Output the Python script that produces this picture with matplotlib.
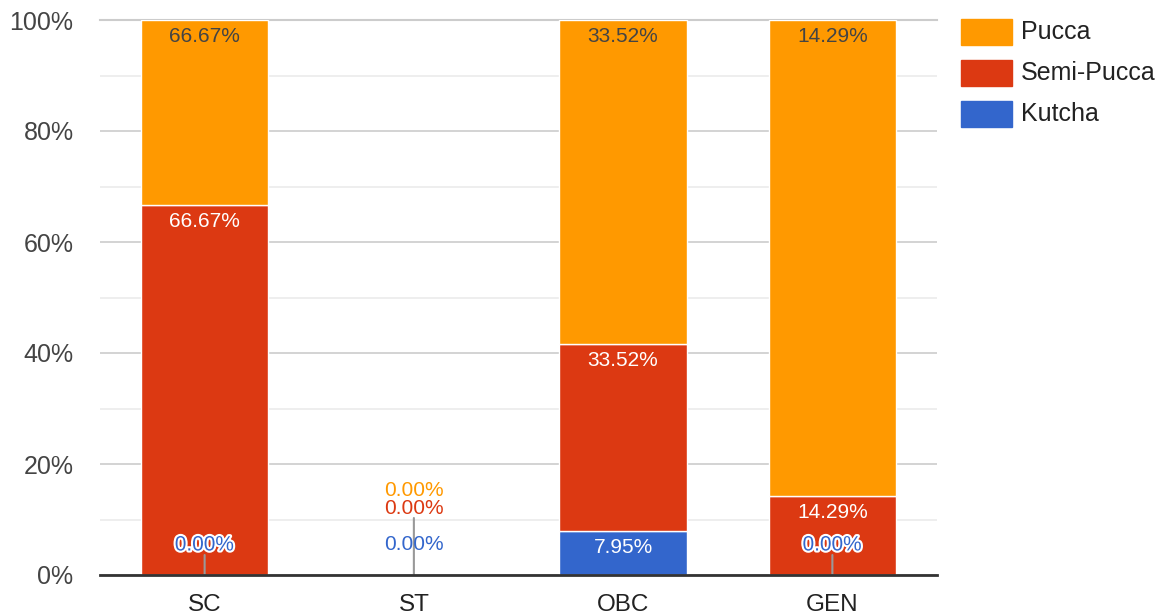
import matplotlib
matplotlib.use("Agg")
import matplotlib.pyplot as plt
import numpy as np
from matplotlib import patheffects as pe
from matplotlib.patches import Rectangle

# data
categories = ["SC", "ST", "OBC", "GEN"]
series = ["Kutcha", "Semi-Pucca", "Pucca"]          # stacking order, bottom first
kutcha = [0.0, 0.0, 7.95, 0.0]
semi_pucca = [66.67, 0.0, 33.60, 14.29]
pucca = [33.33, 0.0, 58.45, 85.71]
kutcha_labels = ["0.00%", "0.00%", "7.95%", "0.00%"]
semi_pucca_labels = ["66.67%", "0.00%", "33.52%", "14.29%"]
pucca_labels = ["66.67%", "0.00%", "33.52%", "14.29%"]
y_ticks = [0, 20, 40, 60, 80, 100]

colors = {"Kutcha": "#3366cc", "Semi-Pucca": "#dc3912", "Pucca": "#ff9900"}
label_colors = {"Kutcha": "white", "Semi-Pucca": "white", "Pucca": "#444444"}
values = {"Kutcha": kutcha, "Semi-Pucca": semi_pucca, "Pucca": pucca}
labels = {"Kutcha": kutcha_labels, "Semi-Pucca": semi_pucca_labels, "Pucca": pucca_labels}

plt.rcParams["font.family"] = ["Liberation Sans", "DejaVu Sans"]

W, H, DPI = 1160, 616, 100
fig = plt.figure(figsize=(W / DPI, H / DPI), dpi=DPI)
L, R, T, B = 100, 937, 20, 575
ax = fig.add_axes([L / W, 1 - B / H, (R - L) / W, (B - T) / H])

PX = 72 / DPI  # points per pixel
x = np.arange(len(categories))
bottom = np.zeros(len(categories))
zero_count = [0] * len(categories)
zero_offsets = [30, 66, 84]

for name in series:
    vals = np.array(values[name])
    ax.bar(x, vals, 0.61, bottom=bottom, color=colors[name],
           edgecolor="white", linewidth=1, zorder=2)
    for j, v in enumerate(vals):
        txt = labels[name][j]
        if v > 0:
            ax.annotate(txt, (x[j], bottom[j] + v), xytext=(0, -16.5 * PX),
                        textcoords="offset points", ha="center", va="center",
                        fontsize=15, color=label_colors[name], zorder=4)
        else:
            off = zero_offsets[zero_count[j]]
            zero_count[j] += 1
            on_bar = bottom[j] + sum(values[s][j] for s in series) > 0
            t = ax.annotate(txt, (x[j], bottom[j]), xytext=(0, off * PX),
                            textcoords="offset points", ha="center", va="center",
                            fontsize=15, color=colors[name], zorder=5)
            if on_bar:
                t.set_path_effects([pe.withStroke(linewidth=3, foreground="white")])
    bottom = bottom + vals

# leader stems for zero-height labels
for j, n in enumerate(zero_count):
    if n == 0:
        continue
    stem_px = 20 if n == 1 else zero_offsets[1] - 9
    ax.annotate("", (x[j], 0), xytext=(0, stem_px * PX), textcoords="offset points",
                arrowprops=dict(arrowstyle="-", color="#999999", lw=1.5,
                                shrinkA=0, shrinkB=0), zorder=3)

ax.set_xlim(-0.5, len(categories) - 0.5)
ax.set_ylim(0, 100)
ax.set_yticks(y_ticks)
ax.set_yticklabels([f"{t}%" for t in y_ticks])
ax.set_yticks(np.arange(10, 100, 20), minor=True)
ax.set_xticks(x)
ax.set_xticklabels(categories)
ax.tick_params(axis="both", which="both", length=0, labelsize=18, colors="#444444")
ax.tick_params(axis="y", pad=19)
ax.tick_params(axis="x", pad=14, labelsize=17.5, labelcolor="#222222")
ax.grid(axis="y", which="major", color="#cccccc", linewidth=1.2, zorder=0)
ax.grid(axis="y", which="minor", color="#ebebeb", linewidth=1.2, zorder=0)
ax.set_axisbelow(True)
for s in ["top", "right", "left"]:
    ax.spines[s].set_visible(False)
ax.spines["bottom"].set_color("#333333")
ax.spines["bottom"].set_linewidth(2)
ax.spines["bottom"].set_zorder(6)
ax.axhline(100, color="#cccccc", linewidth=1.5, zorder=1, clip_on=False)

# legend, top series first
for k, name in enumerate(reversed(series)):
    yc = 32 + 41 * k
    fig.add_artist(Rectangle((961 / W, 1 - (yc + 13) / H), 51 / W, 26 / H,
                             transform=fig.transFigure, color=colors[name]))
    fig.text(1021 / W, 1 - yc / H, name, ha="left", va="center",
             fontsize=18, color="#222222")

fig.savefig("out.png", dpi=DPI, facecolor="white")
